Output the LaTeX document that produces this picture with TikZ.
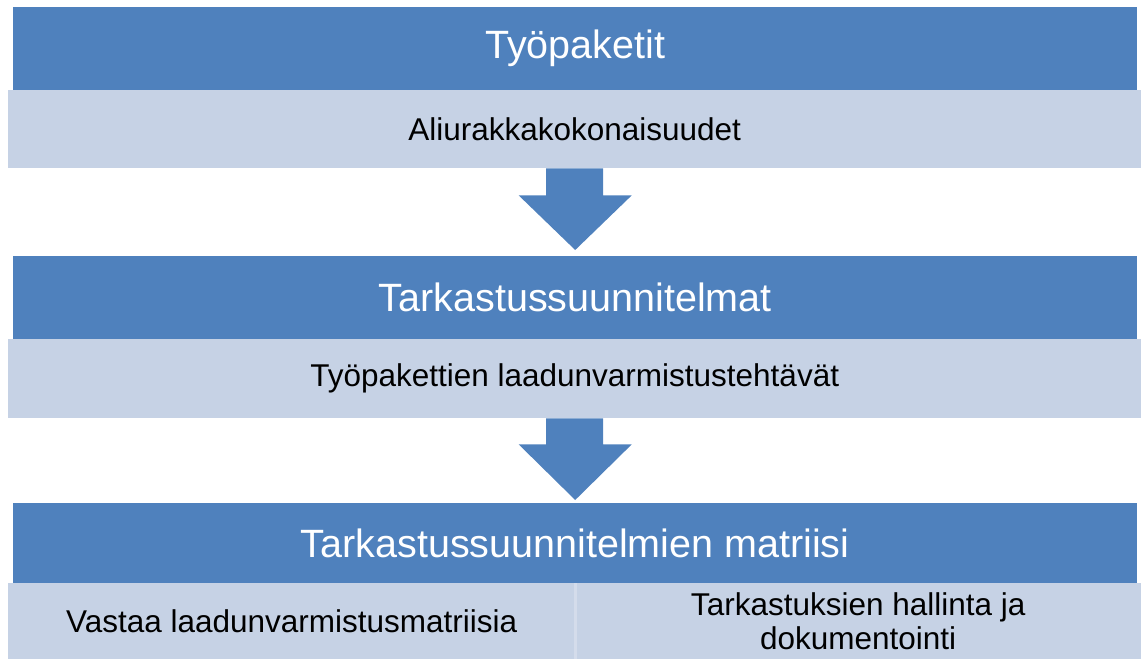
\documentclass[tikz,border=0pt]{standalone}
\usepackage{fontspec}
\setmainfont{Liberation Sans}
\usetikzlibrary{calc}
\definecolor{hdrblue}{HTML}{4F81BD}
\definecolor{subblue}{HTML}{C6D2E5}
\definecolor{subedge}{HTML}{D4DCEB}
\tikzset{
  hdr/.style={fill=hdrblue, draw=none, text=white, inner sep=0pt, anchor=north west,
    font=\fontsize{39.5}{42}\selectfont},
  subbox/.style={fill=subblue, draw=none, text=black, inner sep=0pt, anchor=north west,
    font=\fontsize{31.5}{34}\selectfont, align=center},
  blockarrow/.style={fill=hdrblue, draw=none},
  divider/.style={draw=subedge, line width=3pt}
}
\begin{document}
\begin{tikzpicture}[x=1pt,y=-1pt]
\useasboundingbox (0,0) rectangle (1141,659);
% level 1
\node[hdr, minimum width=1124pt, minimum height=83pt] (h1) at (13,7) {Työpaketit};
\node[subbox, minimum width=1133pt, minimum height=78pt] (s1) at (8,90) {Aliurakkakokonaisuudet};
% level 2
\node[hdr, minimum width=1124pt, minimum height=83pt] (h2) at (13,256) {Tarkastussuunnitelmat};
\node[subbox, minimum width=1133pt, minimum height=79pt] (s2) at (8,339) {Työpakettien laadunvarmistustehtävät};
% level 3
\node[hdr, minimum width=1124pt, minimum height=80pt] (h3) at (13,503) {Tarkastussuunnitelmien matriisi};
\node[subbox, minimum width=567pt, minimum height=76pt] (s3a) at (8,583) {Vastaa laadunvarmistusmatriisia};
\node[subbox, minimum width=566pt, minimum height=76pt] (s3b) at (575,583) {Tarkastuksien hallinta ja\\dokumentointi};
\draw[divider] (s3a.north east) -- (s3a.south east);
% block arrows
\fill[blockarrow] ($(s1.south)+(-28.5,0)$) -- ($(s1.south)+(28.5,0)$) -- ($(s1.south)+(28.5,27)$)
  -- ($(s1.south)+(57,27)$) -- ($(h2.north)+(0,-6)$) -- ($(s1.south)+(-56,27)$)
  -- ($(s1.south)+(-28.5,27)$) -- cycle;
\fill[blockarrow] ($(s2.south)+(-28.5,0)$) -- ($(s2.south)+(28.5,0)$) -- ($(s2.south)+(28.5,26)$)
  -- ($(s2.south)+(57,26)$) -- ($(h3.north)+(0,-3)$) -- ($(s2.south)+(-56,26)$)
  -- ($(s2.south)+(-28.5,26)$) -- cycle;
\end{tikzpicture}
\end{document}
